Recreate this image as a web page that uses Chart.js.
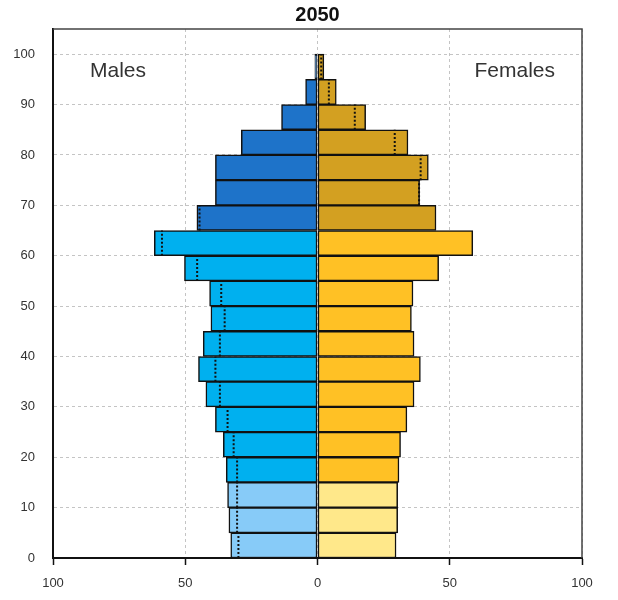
<!DOCTYPE html>
<html>
<head>
<meta charset="utf-8">
<script src="https://cdn.jsdelivr.net/npm/chart.js@4/dist/chart.umd.min.js"></script>
<style>
  html, body { margin: 0; padding: 0; background: #fff; }
  #wrap { width: 618px; height: 600px; }
</style>
</head>
<body>
<div id="wrap"><canvas id="pyramid"></canvas></div>
<script>
// age groups start at these ages, 5 years wide (0-4 ... 95-99)
var ageStarts = [0, 5, 10, 15, 20, 25, 30, 35, 40, 45, 50, 55, 60, 65, 70, 75, 80, 85, 90, 95];
var maleValues = [32.8, 33.5, 34.0, 34.5, 35.6, 38.6, 42.2, 45.0, 43.2, 40.3, 40.8, 50.3, 61.7, 45.6, 38.6, 38.6, 28.8, 13.6, 4.5, 1.0];
var femaleValues = [29.7, 30.3, 30.3, 30.8, 31.4, 33.8, 36.5, 38.9, 36.5, 35.5, 36.1, 45.8, 58.7, 44.8, 38.6, 41.9, 34.2, 18.2, 7.1, 2.4];
// dotted comparison marks
var maleRef = [29.9, 30.4, 30.4, 30.4, 31.7, 34.0, 36.9, 38.6, 36.9, 35.1, 36.4, 45.5, 58.8, 44.6, null, null, null, null, null, null];
var femaleRef = [null, null, null, null, null, null, null, null, null, null, null, null, null, null, 38.4, 39.0, 29.2, 14.1, 4.3, 1.4];
var xTicks = [-100, -50, 0, 50, 100];
var yTicks = [0, 10, 20, 30, 40, 50, 60, 70, 80, 90, 100];

var groupWidth = 5;

function groupColor(age, young, mid, old) {
    if (age < 15) return young;
    if (age < 65) return mid;
    return old;
}

var maleColors = ageStarts.map(function (a) { return groupColor(a, '#87CBF8', '#00B0EF', '#1E73C9'); });
var femaleColors = ageStarts.map(function (a) { return groupColor(a, '#FFE88A', '#FFC125', '#D3A021'); });

function barData(values, sign) {
    return values.map(function (v, i) { return {x: sign * v, y: ageStarts[i] + groupWidth / 2}; });
}

// vertical dotted segment across each age group, broken with gaps
function refData(values, sign) {
    var pts = [];
    values.forEach(function (v, i) {
        if (v === null) return;
        pts.push({x: sign * v, y: ageStarts[i]});
        pts.push({x: sign * v, y: ageStarts[i] + groupWidth});
        pts.push({x: null, y: ageStarts[i] + groupWidth});
    });
    return pts;
}

var boxAndLabels = {
    id: 'boxAndLabels',
    afterDraw: function (chart) {
        var ctx = chart.ctx, a = chart.chartArea;
        ctx.save();
        ctx.strokeStyle = '#444';
        ctx.lineWidth = 1.5;
        ctx.beginPath();
        ctx.moveTo(a.left, a.top);
        ctx.lineTo(a.right, a.top);
        ctx.lineTo(a.right, a.bottom);
        ctx.stroke();
        ctx.fillStyle = '#333';
        ctx.font = '21px "Liberation Sans", Arial, sans-serif';
        ctx.textBaseline = 'alphabetic';
        ctx.textAlign = 'left';
        ctx.fillText('Males', a.left + 37, a.top + 48);
        ctx.textAlign = 'right';
        ctx.fillText('Females', a.right - 27, a.top + 48);
        ctx.restore();
    }
};

var chx = document.getElementById('pyramid');
var chart = new Chart(chx, {
    type: 'bar',
    data: {
        datasets: [
            {
                type: 'line', label: 'Males ref', data: refData(maleRef, -1),
                borderColor: '#111', borderWidth: 2, borderDash: [2, 2],
                pointRadius: 0, spanGaps: false, fill: false, order: 0
            },
            {
                type: 'line', label: 'Females ref', data: refData(femaleRef, 1),
                borderColor: '#111', borderWidth: 2, borderDash: [2, 2],
                pointRadius: 0, spanGaps: false, fill: false, order: 0
            },
            {
                label: 'Males', data: barData(maleValues, -1),
                backgroundColor: maleColors, borderColor: '#111', borderWidth: 1.5,
                borderSkipped: false, order: 1
            },
            {
                label: 'Females', data: barData(femaleValues, 1),
                backgroundColor: femaleColors, borderColor: '#111', borderWidth: 1.5,
                borderSkipped: false, order: 1
            }
        ]
    },
    options: {
        indexAxis: 'y',
        responsive: true,
        maintainAspectRatio: false,
        animation: false,
        grouped: false,
        categoryPercentage: 1,
        barPercentage: 1,
        layout: { padding: { left: 13, right: 36, top: 0, bottom: 0 } },
        plugins: {
            legend: { display: false },
            tooltip: { enabled: false },
            title: {
                display: true, text: '2050', color: '#111', fullSize: false,
                font: { family: '"Liberation Sans", Arial, sans-serif', size: 20, weight: 'bold' },
                padding: { top: 3, bottom: 2 }
            }
        },
        scales: {
            x: {
                type: 'linear', min: -100, max: 100,
                afterBuildTicks: function (axis) { axis.ticks = xTicks.map(function (v) { return {value: v}; }); },
                afterFit: function (axis) { axis.height = 42; },
                ticks: {
                    color: '#333', padding: 11,
                    font: { family: '"Liberation Sans", Arial, sans-serif', size: 13 },
                    callback: function (v) { return Math.abs(v); }
                },
                grid: {
                    color: '#c4c4c4', lineWidth: 1, tickLength: 7,
                    tickColor: '#111', tickWidth: 1.5, tickBorderDash: []
                },
                border: { color: '#111', width: 2, dash: [3, 3] }
            },
            y: {
                type: 'linear', min: 0, max: 105, offset: false,
                afterBuildTicks: function (axis) { axis.ticks = yTicks.map(function (v) { return {value: v}; }); },
                afterFit: function (axis) { axis.width = 40; },
                ticks: {
                    color: '#333', padding: 18,
                    font: { family: '"Liberation Sans", Arial, sans-serif', size: 13 }
                },
                grid: { color: '#c4c4c4', lineWidth: 1, drawTicks: false, offset: false },
                border: { color: '#111', width: 2, dash: [3, 3] }
            }
        }
    },
    plugins: [boxAndLabels]
});
</script>
</body>
</html>
